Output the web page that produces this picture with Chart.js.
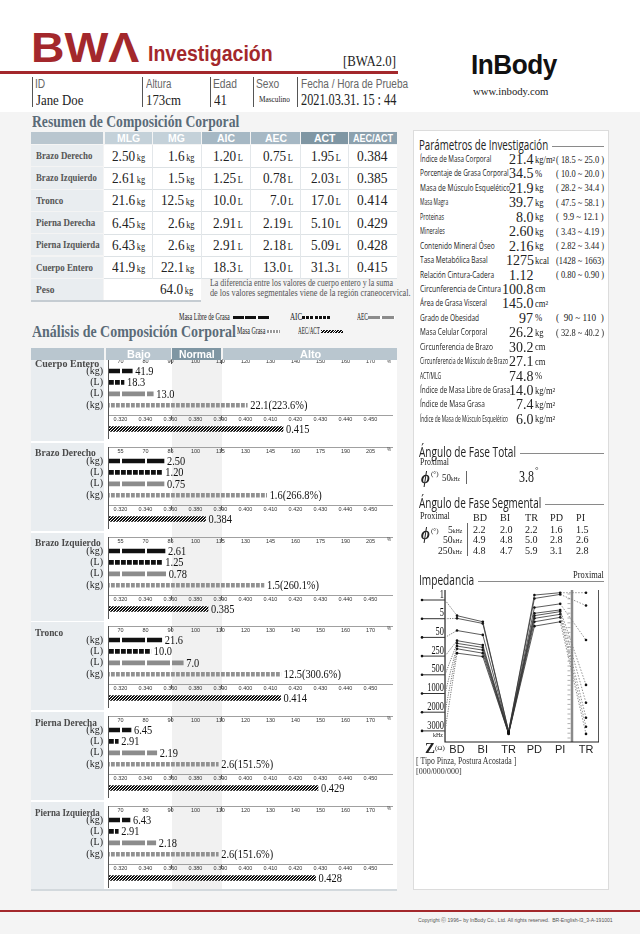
<!DOCTYPE html>
<html><head><meta charset="utf-8">
<script src="https://cdn.jsdelivr.net/npm/chart.js@4.4.1/dist/chart.umd.min.js"></script>
<style>
html,body{margin:0;padding:0}
body{width:640px;height:934px;position:relative;background:#f4f4f4;overflow:hidden}
#page{position:absolute;left:0;top:0;width:640px;height:934px}
.abs{position:absolute}
canvas{position:absolute}
</style></head><body>
<div id="page"></div>
<script>
// ---- data: summary table (rows in table order)
const tblRows = ['Brazo Derecho','Brazo Izquierdo','Tronco','Pierna Derecha','Pierna Izquierda','Cuerpo Entero'];
const tblHead = ['MLG','MG','AIC','AEC','ACT','AEC/ACT'];
const mlgKg = ['2.50','2.61','21.6','6.45','6.43','41.9'];
const mgKg = ['1.6','1.5','12.5','2.6','2.6','22.1'];
const aicL = ['1.20','1.25','10.0','2.91','2.91','18.3'];
const aecL = ['0.75','0.78','7.0','2.19','2.18','13.0'];
const actL = ['1.95','2.03','17.0','5.10','5.09','31.3'];
const ratioAecAct = ['0.384','0.385','0.414','0.429','0.428','0.415'];
const pesoKg = '64.0';

// ---- data: analysis bars (segments in chart order)
const segNames = ['Cuerpo Entero','Brazo Derecho','Brazo Izquierdo','Tronco','Pierna Derecha','Pierna Izquierda'];
const rowUnits = ['(kg)','(L)','(L)','(kg)'];
const pctTicksStd = ['70','80','90','100','110','120','130','140','150','160','170'];
const pctTicksArm = ['55','70','85','100','115','130','145','160','175','190','205'];
const ratioTicks = ['0.320','0.340','0.360','0.380','0.390','0.400','0.410','0.420','0.430','0.440','0.450'];
const mlgPct = [74.7, 81.1, 81.7, 86.5, 74.2, 73.8];
const aicPct = [71.4, 80.1, 80.1, 82.1, 69.1, 69.1];
const aecPct = [83.1, 81.1, 82.1, 95.1, 84.5, 84.1];
const mgPct = [120.7, 142.7, 141.1, 134.1, 109.1, 109.1];
const mgPctStd = ['223.6','266.8','260.1','300.6','151.5','151.6'];

// ---- data: research parameters
const paramNames = ['Índice de Masa Corporal','Porcentaje de Grasa Corporal','Masa de Músculo Esquelético','Masa Magra','Proteinas','Minerales','Contenido Mineral Óseo','Tasa Metabólica Basal','Relación Cintura-Cadera','Circunferencia de Cintura','Área de Grasa Visceral','Grado de Obesidad','Masa Celular Corporal','Circunferencia de Brazo','Circunferencia de Músculo de Brazo','ACT/MLG','Índice de Masa Libre de Grasa','Índice de Masa Grasa','Índice de Masa de Músculo Esquelético'];
const paramValues = ['21.4','34.5','21.9','39.7','8.0','2.60','2.16','1275','1.12','100.8','145.0','97','26.2','30.2','27.1','74.8','14.0','7.4','6.0'];
const paramUnits = ['kg/m²','%','kg','kg','kg','kg','kg','kcal','','cm','cm²','%','kg','cm','cm','%','kg/m²','kg/m²','kg/m²'];
const paramRanges = ['( 18.5 ~ 25.0 )','( 10.0 ~ 20.0 )','( 28.2 ~ 34.4 )','( 47.5 ~ 58.1 )','(  9.9 ~ 12.1 )','( 3.43 ~ 4.19 )','( 2.82 ~ 3.44 )','(1428 ~ 1663)','( 0.80 ~ 0.90 )','','','(  90 ~ 110  )','( 32.8 ~ 40.2 )','','','','','',''];

// ---- data: phase angle
const phaseTotal = '3.8';
const phaseSegs = ['BD','BI','TR','PD','PI'];
const phaseFreqs = ['5','50','250'];
const phase5 = ['2.2','2.0','2.2','1.6','1.5'];
const phase50 = ['4.9','4.8','5.0','2.8','2.6'];
const phase250 = ['4.8','4.7','5.9','3.1','2.8'];

// ---- data: impedance (ohm), one value per frequency
const impSegs = ['BD','BI','TR','PD','PI','TR'];
const freqs = ['1','5','50','250','500','1000','2000','3000'];
const zBD = [374,366,330,300,292,284,276,263];
const zBI = [356,351,317,287,280,272,263,253];
const zTR = [32,31,29,28,27,26,25,24];
const zPD = [435,425,398,381,374,366,356,343];
const zPI = [442,437,409,391,386,378,369,356];
const zTRprox = [442,404,302,169,116,72,45,24];

const SERIF = '"Liberation Serif","Times New Roman",serif';
const SANS = '"Liberation Sans",Arial,sans-serif';
const MYR = '"Open Sans","Noto Sans",sans-serif';
const RED = '#a3282c', SLATE = '#5a6b78';
const page = document.getElementById('page');

function box(x,y,w,h,bg,css){
  const d=document.createElement('div'); d.className='abs';
  d.style.cssText+=`left:${x}px;top:${y}px;width:${w}px;height:${h}px;background:${bg};${css||''}`;
  page.appendChild(d); return d;
}
function T(x,y,s,font,o){
  o=o||{};
  const d=document.createElement('div'); d.className='abs'; d.innerHTML=s;
  d.style.cssText+=`white-space:nowrap;font:${font};line-height:1;color:${o.color||'#222'};${o.css||''}`;
  page.appendChild(d);
  const w=d.offsetWidth, h=d.offsetHeight;
  const sx=o.w?o.w/w:(o.sx||1), ww=w*sx, a=o.align||'left';
  d.style.left=(a==='left'?x:a==='right'?x-ww:x-ww/2)+'px';
  d.style.top=(y-h/2)+'px';
  if(sx!==1){d.style.transformOrigin='0 50%';d.style.transform=`scaleX(${sx})`;}
  return d;
}
function hline(x1,x2,y,col,t){t=t||1;return box(x1,y-t/2,x2-x1,t,col);}
function vline(x,y1,y2,col,t){t=t||1;return box(x-t/2,y1,t,y2-y1,col);}
function sText(ctx,s,x,y,sx){ctx.save();ctx.translate(x,y);ctx.scale(sx,1);ctx.fillText(s,0,0);ctx.restore();}

// ---- backgrounds
box(0,0,640,112,'#fff');
box(31,360,366,531,'#fff');
box(172,360,50,531,'#f1f1f1');
box(413,130,196,760,'#fff','box-sizing:border-box;border:1px solid #dcdcdc');

// ---- header
T(31,47.5,'BWΛ',`bold 43px ${SANS}`,{color:RED,w:108});
T(148,54,'Investigación',`bold 22px ${SANS}`,{color:RED,w:125});
T(343,62,'[BWA2.0]',`14px ${SERIF}`,{w:53});
hline(0,398,72,RED,3);
[32,142,210,253,297].forEach(x=>vline(x,77,107,'#555'));
T(35,84,'ID',`12px ${SANS}`,{color:'#666',sx:0.85});
T(146,84,'Altura',`12px ${SANS}`,{color:'#666',w:25});
T(213,84,'Edad',`12px ${SANS}`,{color:'#666',w:24});
T(256,84,'Sexo',`12px ${SANS}`,{color:'#666',w:23});
T(301,84,'Fecha / Hora de Prueba',`12px ${SANS}`,{color:'#666',w:107});
T(36,100,'Jane Doe',`15px ${SERIF}`,{w:47});
T(146,100,'173cm',`15px ${SERIF}`,{w:35});
T(214,100,'41',`15px ${SERIF}`,{w:13});
T(259,100,'Masculino',`8px ${SERIF}`,{w:31});
T(301,100,'2021.03.31. 15 : 44',`16px ${SERIF}`,{w:95});
T(471,65,'InBody',`bold 28px ${SANS}`,{color:'#111',w:86,css:'letter-spacing:-0.5px'});
T(473,91,'www.inbody.com',`11px ${SERIF}`,{w:75});

// ---- summary table
T(32,121,'Resumen de Composición Corporal',`bold 17px ${SERIF}`,{color:SLATE,w:207});
const colX=[31,104,152,201,250,300,348,397];
const headBg=['#b9c6cf','#c4d1d9','#c4d1d9','#a6b8c4','#a6b8c4','#7f96a3','#8ca1ae'];
box(31,132,72,12,headBg[0]);
tblHead.forEach((h,c)=>{
  box(colX[c+1]+1,132,colX[c+2]-colX[c+1]-1,12,headBg[c+1]);
  T((colX[c+1]+colX[c+2])/2+0.5,138.5,h,`bold 11px ${SANS}`,{color:'#fff',align:'center',sx:h.length>4?0.82:0.95});
});
const rowH=22.3,row0=145;
const tblNameW=[56,61,27,59,64,57];
box(104,row0,293,rowH*6,'#fff');
for(let r=1;r<6;r++) hline(104,397,row0+r*rowH,'#dde2e5');
hline(104,397,row0+6*rowH,'#dde2e5');
for(let c=2;c<7;c++) vline(colX[c],row0,row0+6*rowH,'#e3e7ea');
const colVals=[mlgKg,mgKg,aicL,aecL,actL,ratioAecAct];
const colUnits=['kg','kg','L','L','L',''];
tblRows.forEach((name,r)=>{
  const y=row0+r*rowH, yc=y+rowH/2;
  box(31,y,72,rowH-1,'#e9edf0');
  T(36,yc,name,`bold 10px ${SERIF}`,{color:'#555',w:tblNameW[r]});
  colVals.forEach((arr,c)=>{
    if(c<5) T(colX[c+2]-7,yc,`${arr[r]}<span style="font-size:9.5px">&#8201;${colUnits[c]}</span>`,`15px ${SERIF}`,{align:'right',sx:0.88});
    else T((colX[6]+colX[7])/2,yc,arr[r],`15px ${SERIF}`,{align:'center',sx:0.9});
  });
});
{
  const y=row0+6*rowH;
  box(31,y,72,rowH,'#e9edf0'); box(104,y,97,rowH,'#fff');
  hline(31,201,y+rowH,'#c5ccd2',2);
  T(36,y+rowH/2,'Peso',`bold 10px ${SERIF}`,{color:'#555',w:18});
  T(193,y+rowH/2,`${pesoKg}<span style="font-size:9.5px">&#8201;kg</span>`,`15px ${SERIF}`,{align:'right',sx:0.88});
  T(210,283,'La diferencia entre los valores de cuerpo entero y la suma',`10px ${SERIF}`,{color:'#555',w:183});
  T(210,293,'de los valores segmentales viene de la región craneocervical.',`10px ${SERIF}`,{color:'#555',w:201});
}

// ---- analysis legend + title
T(179,317,'Masa Libre de Grasa',`10px ${SERIF}`,{w:51});
box(233,315.5,37,3.5,'repeating-linear-gradient(90deg,#111 0 11px,#fff 11px 12.5px)');
T(290,317,'AIC',`10px ${SERIF}`,{w:12});
box(302,315.5,28,3.5,'repeating-linear-gradient(90deg,#111 0 3px,#fff 3px 4.2px)');
T(357,317,'AEC',`10px ${SERIF}`,{w:11});
box(368,315.5,27,3.5,'repeating-linear-gradient(90deg,#8c8c8c 0 12px,#fff 12px 13.5px)');
T(32,331,'Análisis de Composición Corporal',`bold 17px ${SERIF}`,{color:SLATE,w:204});
T(237,331,'Masa Grasa',`10px ${SERIF}`,{w:28});
box(267,329.5,13,3,'repeating-linear-gradient(90deg,#999 0 2px,#fff 2px 3px)');
T(298,331,'AEC/ACT',`10px ${SERIF}`,{w:22});
box(321,329.5,22,3,'repeating-linear-gradient(135deg,#111 0 1.2px,#fff 1.2px 2px)');

// ---- bar patterns
function pat(w,h,draw){const c=document.createElement('canvas');c.width=w;c.height=h;const g=c.getContext('2d');draw(g);return g.createPattern(c,'repeat');}
const patMLG=pat(25,8,g=>{g.fillStyle='#111';g.fillRect(0,0,25,8);g.clearRect(14,0,1.5,8);});
const patAIC=pat(6,8,g=>{g.fillStyle='#111';g.fillRect(0,0,4.8,8);});
const patAEC=pat(25,8,g=>{g.fillStyle='#8c8c8c';g.fillRect(0,0,25,8);g.clearRect(14,0,1.8,8);});
const patMG=pat(5,8,g=>{g.fillStyle='#929292';g.fillRect(0,0,3.8,8);});
const patRAT=pat(3,3,g=>{g.fillStyle='#111';g.fillRect(0,0,3,3);g.fillStyle='#fff';g.fillRect(0,2,1,1);g.fillRect(1,1,1,1);g.fillRect(2,0,1,1);});

const XMIN=-0.5, XMAX=-0.5+289/25;
const rt=ratioTicks.map(Number);
function ratioIdx(r){for(let k=0;k<rt.length-1;k++){if(r<=rt[k+1])return k+(r-rt[k])/(rt[k+1]-rt[k]);}return rt.length-1;}

function xAxis(labels,h){
  return {type:'linear',position:'top',min:XMIN,max:XMAX,
    afterBuildTicks:ax=>{ax.ticks=labels.map((_,k)=>({value:k}));},
    afterFit:ax=>{ax.height=h;ax.paddingLeft=0;ax.paddingRight=0;},
    ticks:{callback:v=>labels[v],font:{family:SANS,size:5.5},color:'#333',padding:0,maxRotation:0,autoSkip:false},
    grid:{display:false,drawTicks:false},border:{display:false}};
}
function yAxis(show){
  return {afterFit:ax=>{ax.width=77;ax.paddingTop=0;ax.paddingBottom=0;},
    ticks:{display:show,autoSkip:false,font:{family:SERIF,size:10},color:'#222',padding:5},
    grid:{display:false,drawTicks:false},border:{display:false}};
}
function deco(lineY,first,labels,sym){
  return {id:'deco',afterDatasetsDraw(ch){
    const {ctx,chartArea:a,scales:{x}}=ch;
    ctx.save();
    ctx.lineWidth=1;
    if(lineY!==null){ctx.strokeStyle='#a0a0a0';ctx.beginPath();ctx.moveTo(a.left,lineY+0.5);ctx.lineTo(a.right-4,lineY+0.5);ctx.stroke();}
    ctx.strokeStyle='#555';ctx.beginPath();ctx.moveTo(a.left+0.5,first);ctx.lineTo(a.left+0.5,ch.height);ctx.stroke();
    const ty=(lineY===null?first:lineY)+1;
    [2,4].forEach(v=>{const px=Math.round(x.getPixelForValue(v))+0.5;ctx.beginPath();ctx.moveTo(px,ty);ctx.lineTo(px,ty+4);ctx.stroke();});
    if(sym){ctx.fillStyle='#444';ctx.font=`4.5px ${SANS}`;ctx.fillText('%',a.right-10,ty+3);}
    ctx.fillStyle='#111';ctx.font=`13px ${SERIF}`;ctx.textBaseline='middle';
    ch.getDatasetMeta(0).data.forEach((el,k)=>sText(ctx,labels[k],Math.max(el.x,el.base)+3,el.y+0.5,0.8));
    ctx.restore();
  }};
}
function mkCanvas(x,y,w,h){const c=document.createElement('canvas');c.width=w;c.height=h;c.style.left=x+'px';c.style.top=y+'px';page.appendChild(c);return c;}

const segNameW=[64,61,66,28,62,65];
segNames.forEach((nm,i)=>{
  const B1=371+89.8*i, j=(i+5)%6;
  const arm=(i===1||i===2);
  const ticks=arm?pctTicksArm:pctTicksStd;
  const first=+ticks[0], step=+ticks[1]-first;
  const toIdx=p=>(p-first)/step;
  const vals=[mlgPct[i],aicPct[i],aecPct[i],mgPct[i]].map(toIdx);
  const labs=[mlgKg[j],aicL[j],aecL[j],`${mgKg[j]}(${mgPctStd[i]}%)`];
  const cellTop=i===0?360:B1-18;
  box(31,cellTop,73,B1+70-cellTop,'#e9edf0');
  const ca=mkCanvas(31,B1-16,366,56);
  new Chart(ca,{type:'bar',
    data:{labels:rowUnits,datasets:[{data:vals.map(v=>[XMIN,v]),backgroundColor:[patMLG,patAIC,patAEC,patMG],barThickness:4,borderWidth:0,borderSkipped:false}]},
    options:{indexAxis:'y',responsive:false,animation:false,devicePixelRatio:1,layout:{padding:0},
      plugins:{legend:{display:false},tooltip:{enabled:false}},
      scales:{x:xAxis(ticks,10.25),y:yAxis(true)}},
    plugins:[deco(i===0?null:2,i===0?4:2,labs,true)]});
  const cb=mkCanvas(31,B1+40,366,28);
  new Chart(cb,{type:'bar',
    data:{labels:[''],datasets:[{data:[[XMIN,ratioIdx(+ratioAecAct[j])]],backgroundColor:patRAT,barThickness:5,borderWidth:0,borderSkipped:false}]},
    options:{indexAxis:'y',responsive:false,animation:false,devicePixelRatio:1,layout:{padding:{bottom:4}},
      plugins:{legend:{display:false},tooltip:{enabled:false}},
      scales:{x:xAxis(ratioTicks,12),y:yAxis(false)}},
    plugins:[deco(4,0,[ratioAecAct[j]],false)]});
  T(35,B1-8,nm,`bold 11px ${SERIF}`,{color:'#4a4a4a',w:segNameW[i]});
});
hline(31,397,890,'#d3d9dd',2);

// header bar for analysis (on top of chart canvases)
box(31,348,73,12,'#b9c6cf');
box(106,348,65,12,'#b9c6cf');
box(172,348,49,12,'#7f96a3');
box(223,348,174,12,'#b9c6cf');
T(138.5,354.5,'Bajo',`bold 11.5px ${SANS}`,{color:'#fff',align:'center',sx:0.95});
T(196.5,354.5,'Normal',`bold 11.5px ${SANS}`,{color:'#fff',align:'center',sx:0.9});
T(310,354.5,'Alto',`bold 11.5px ${SANS}`,{color:'#fff',align:'center',sx:0.95});

// ---- research parameters panel
function secTitle(y,s,w){T(419,y,s,`14px ${MYR}`,{color:'#222',w:w});hline(419+w+4,604,y+1,'#8a8a8a');}
secTitle(145,'Parámetros de Investigación',129);
const paramLabelW=[71,89,90,28,24,25,75,68,74,81,67,59,67,73,88,21,90,65,88];
paramNames.forEach((nm,k)=>{
  const y=159+14.44*k;
  T(419.5,y,nm,`9.5px ${MYR}`,{color:'#222',w:paramLabelW[k]});
  T(533.5,y,paramValues[k],`15.5px ${SERIF}`,{align:'right',sx:0.9});
  if(paramUnits[k]) T(535,y+1.5,paramUnits[k],`9.5px ${SERIF}`,{sx:0.9});
  if(paramRanges[k]) T(556,y+0.5,paramRanges[k].replace(/ /g,'&nbsp;'),`10px ${SERIF}`,{w:48});
});

// ---- phase angle
secTitle(452,'Ángulo de Fase Total',97);
T(420,463,'Proximal',`9.5px ${SERIF}`,{w:29});
T(421,477,'<b><i>ϕ</i></b>',`17px ${SERIF}`,{w:9});
T(431,474,'(°)',`7px ${SERIF}`);
T(442,477.5,'50<span style="font-size:6.5px">kHz</span>',`11px ${SERIF}`,{w:18});
vline(466,471,484,'#666');
T(519,477,phaseTotal,`16px ${SERIF}`,{w:15});
T(535,470,'°',`9px ${SERIF}`);
secTitle(503,'Ángulo de Fase Segmental',122);
T(420,517,'Proximal',`9.5px ${SERIF}`,{w:30});
const phCols=[473,500,525,550,576];
phaseSegs.forEach((s,c)=>T(phCols[c],517,s,`11px ${SERIF}`,{sx:0.92}));
T(421,533,'<b><i>ϕ</i></b>',`17px ${SERIF}`,{w:9});
T(431,531,'(°)',`7px ${SERIF}`);
vline(467,523,556,'#666');
[phase5,phase50,phase250].forEach((arr,r)=>{
  const y=529+10.7*r;
  T(462,y,`${phaseFreqs[r]}<span style="font-size:6.5px">kHz</span>`,`11px ${SERIF}`,{align:'right',sx:0.88});
  arr.forEach((v,c)=>T(phCols[c],y,v,`11px ${SERIF}`,{sx:0.92}));
});

// ---- impedance
secTitle(580,'Impedancia',55);
T(604,576,'Proximal',`9.5px ${SERIF}`,{align:'right',w:31});
T(425,748,'<b style="font-size:15px">Z</b><span style="font-size:7px;vertical-align:3px">(Ω)</span>',`14px ${SERIF}`);
T(416,762,'[ Tipo Pinza, Postura Acostada ]',`9.5px ${SERIF}`,{w:100,color:'#333'});
T(416,771,'[000/000/000]',`8.5px ${SERIF}`,{w:46,color:'#333'});

const impDeco={id:'impDeco',
  beforeDatasetsDraw(ch){
    const {ctx,chartArea:a,scales:{x,y}}=ch;
    const ax=x.getPixelForValue(0.535), sep=x.getPixelForValue(5.457);
    ctx.save();
    ctx.strokeStyle='#8a8a8a';ctx.lineWidth=2.5;ctx.beginPath();ctx.moveTo(sep,a.top);ctx.lineTo(sep,a.bottom);ctx.stroke();
    // small ticks along the separator
    ctx.strokeStyle='#9a9a9a';ctx.lineWidth=0.8;ctx.beginPath();
    for(let ty=a.top+4;ty<a.bottom-1;ty+=4.8){ctx.moveTo(sep-4.5,ty);ctx.lineTo(sep-1.5,ty);}
    ctx.stroke();
    ctx.strokeStyle='#555';ctx.lineWidth=1;ctx.beginPath();ctx.moveTo(a.right-0.5,a.top);ctx.lineTo(a.right-0.5,a.bottom);ctx.stroke();
    ctx.strokeStyle='#222';ctx.lineWidth=1.2;ctx.beginPath();ctx.moveTo(ax,a.top);ctx.lineTo(ax,a.bottom);ctx.lineTo(a.right,a.bottom);ctx.stroke();
    // frequency markers and dotted links to BD
    freqs.forEach((f,k)=>{
      const my=a.top+10+18.7*k;
      ctx.strokeStyle='#333';ctx.lineWidth=1;ctx.setLineDash([]);
      ctx.beginPath();ctx.moveTo(a.left,my);ctx.lineTo(ax,my);ctx.stroke();
      ctx.fillStyle='#111';ctx.beginPath();ctx.arc(a.left,my,1.3,0,Math.PI*2);ctx.fill();
      ctx.font=`12px ${SERIF}`;ctx.textAlign='right';ctx.textBaseline='bottom';
      ctx.save();ctx.translate(ax-1,my+0.5);ctx.scale(0.7,1);ctx.fillText(f,0,0);ctx.restore();
      ctx.strokeStyle='#777';ctx.setLineDash([1.2,1.2]);
      ctx.beginPath();ctx.moveTo(ax,my);ctx.lineTo(x.getPixelForValue(1),y.getPixelForValue(zBD[k]));ctx.stroke();
    });
    ctx.setLineDash([]);
    ctx.font=`6px ${SERIF}`;ctx.textAlign='right';ctx.textBaseline='middle';ctx.fillStyle='#222';
    ctx.fillText('kHz',ax-2,a.top+10+18.7*7+5);
    ctx.restore();
  }};
const ci=mkCanvas(415,585,190,172);
new Chart(ci,{type:'line',
  data:{datasets:freqs.map((f,k)=>({label:f+' kHz',
    data:[zBD[k],zBI[k],zTR[k],zPD[k],zPI[k],zTRprox[k]].map((v,i)=>({x:i+1,y:v})),
    borderColor:'#333',borderWidth:0.8,pointRadius:1.3,pointBorderWidth:0,pointBackgroundColor:'#111',
    segment:{borderDash:c=>c.p0DataIndex===4?[1.5,1.5]:undefined,borderColor:c=>c.p0DataIndex===4?'#777':undefined}}))},
  options:{responsive:false,animation:false,devicePixelRatio:1,
    layout:{padding:{left:7,right:6,top:5,bottom:0}},
    plugins:{legend:{display:false},tooltip:{enabled:false}},
    scales:{
      x:{type:'linear',min:-0.357,max:6.504,
        afterBuildTicks:ax=>{ax.ticks=impSegs.map((_,k)=>({value:k+1}));},
        afterFit:ax=>{ax.height=15;},
        ticks:{callback:v=>impSegs[v-1],font:{family:SANS,size:11},color:'#222',padding:1,maxRotation:0,autoSkip:false},
        grid:{display:false,drawTicks:false},border:{display:false}},
      y:{display:false,min:0,max:450}}},
  plugins:[impDeco]});

// ---- footer
hline(0,640,911,RED,2.5);
T(613,919.5,'Copyright ⓒ 1996~ by InBody Co., Ltd. All rights reserved.&nbsp;&nbsp;BR-English-I3_3-A-191001',`6px ${SANS}`,{align:'right',w:195,color:'#555'});
</script></body></html>
